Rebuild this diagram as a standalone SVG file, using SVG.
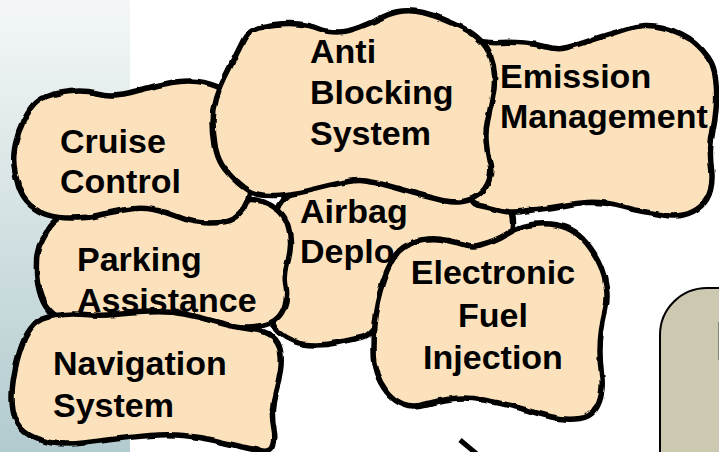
<svg xmlns="http://www.w3.org/2000/svg" width="719" height="452" viewBox="0 0 719 452">
<defs>
<linearGradient id="bg" x1="0" y1="0" x2="0" y2="1">
<stop offset="0" stop-color="#f4f7f7"/>
<stop offset="1" stop-color="#b2cbce"/>
</linearGradient>
<filter id="wob" x="-5%" y="-5%" width="110%" height="110%">
<feTurbulence type="fractalNoise" baseFrequency="0.06" numOctaves="2" seed="3" result="n"/>
<feDisplacementMap in="SourceGraphic" in2="n" scale="4" xChannelSelector="R" yChannelSelector="G"/>
</filter>
<style>
.blob{fill:#fce2bc;stroke:#000;stroke-width:5.5;stroke-linejoin:round;filter:url(#wob)}
.t{font-family:"Liberation Sans",Arial,sans-serif;font-weight:bold;font-size:34px;fill:#000}
.conn{stroke:#000;stroke-width:5;fill:none}
</style>
</defs>
<rect x="0" y="0" width="719" height="452" fill="#fff"/>
<rect x="0" y="0" width="130" height="452" fill="url(#bg)"/>

<g id="node-gray">
<path d="M660,460 V335 A47,47 0 0 1 707,288 H730 V460 Z" fill="#cdc8b0" stroke="#000" stroke-width="2"/>
<text class="t" x="715" y="360" style="font-size:55px">E</text>
</g>

<g id="node-airbag">
<path class="blob" d="M276,216 Q280,192 315,183.5 Q350,175 400,177.5 Q450,180 477.5,187.5 Q505,195 509.5,205 Q514,215 513.5,225 Q513,235 506.5,245 Q500,255 460,262.5 Q420,270 402.5,285 Q385,300 379,317.5 Q373,335 361.5,337.5 Q350,340 338.5,342.5 Q327,345 315,345 Q303,345 294,341.5 Q285,338 278.5,332.5 Q272,327 269,308.5 Q266,290 269,265 Q272,240 276,216 Z"/>
<text class="t" x="300" y="223">Airbag</text>
<text class="t" x="300" y="263">Deplo</text>
</g>

<g id="node-parking">
<path class="blob" d="M42,240 Q45,235 48.5,228.5 Q52,222 61,216 Q70,210 100,207.5 Q130,205 165,205 Q200,205 220,202.5 Q240,200 248,199.5 Q256,199 264,202 Q272,205 278.5,210.5 Q285,216 288,225.5 Q291,235 290.5,245 Q290,255 287,265 Q284,275 286,286.5 Q288,298 284,308 Q280,318 271,322.5 Q262,327 247.5,327 Q233,327 216.5,322.5 Q200,318 185,316 Q170,314 150,315 Q130,316 107.5,320 Q85,324 72.5,322 Q60,320 52.5,314 Q45,308 41,296.5 Q37,285 36.5,272.5 Q36,260 37.5,252.5 Q39,245 42,240 Z"/>
</g>

<g id="node-cruise">
<path class="blob" d="M33,106 Q38,100 46.5,96.5 Q55,93 70,91.5 Q85,90 96.5,93 Q108,96 119,94.5 Q130,93 144,89 Q158,85 171.5,82.5 Q185,80 197.5,81.5 Q210,83 222.5,89 Q235,95 241.5,117.5 Q248,140 249.5,162.5 Q251,185 249.5,193.5 Q248,202 244,208.5 Q240,215 233.5,219 Q227,223 210,223 Q193,223 180,217.5 Q167,212 153.5,209.5 Q140,207 123.5,210 Q107,213 97,215.5 Q87,218 72,218 Q57,218 47.5,215 Q38,212 30,205 Q22,198 18.5,186.5 Q15,175 14,165 Q13,155 15.5,143.5 Q18,132 23,122 Q28,112 33,106 Z"/>
<text class="t" x="60" y="153">Cruise</text>
<text class="t" x="60" y="193">Control</text>
</g>

<g id="node-emission">
<path class="blob" d="M465,80 Q470,40 480,41.5 Q490,43 501,42.5 Q512,42 524.5,43 Q537,44 547,47 Q557,50 567,47.5 Q577,45 587,41.5 Q597,38 607,35 Q617,32 626,29 Q635,26 644,25.5 Q653,25 663,27.5 Q673,30 681.5,34 Q690,38 696.5,44 Q703,50 708,57 Q713,64 714.5,72 Q716,80 716.5,90 Q717,100 716,110 Q715,120 713,130 Q711,140 710.5,149 Q710,158 711.5,169 Q713,180 710.5,190 Q708,200 700.5,206.5 Q693,213 683,215 Q673,217 663,215 Q653,213 643,211.5 Q633,210 625,207.5 Q617,205 607,203.5 Q597,202 587,202.5 Q577,203 567,205 Q557,207 545,208.5 Q533,210 521.5,211.5 Q510,213 498.5,210 Q487,207 477,205 Q467,203 463.5,161.5 Q460,120 465,80 Z"/>
<text class="t" x="500" y="88">Emission</text>
<text class="t" x="500" y="128">Management</text>
</g>

<g id="node-abs">
<path class="blob" d="M243.5,40 Q247,33 254.5,29.5 Q262,26 274.5,24.5 Q287,23 298.5,24 Q310,25 318.5,28.5 Q327,32 337,32 Q347,32 360,27 Q373,22 383,17 Q393,12 403,11 Q413,10 423,12.5 Q433,15 443,19 Q453,23 463,28 Q473,33 480,40 Q487,47 490.5,56 Q494,65 494.5,75 Q495,85 492.5,97.5 Q490,110 487.5,121.5 Q485,133 486.5,145 Q488,157 490,164.5 Q492,172 489,180.5 Q486,189 479,194.5 Q472,200 462.5,201.5 Q453,203 443,200.5 Q433,198 423,195.5 Q413,193 403,190 Q393,187 383,184.5 Q373,182 365,181 Q357,180 348.5,181.5 Q340,183 331.5,185 Q323,187 315,189 Q307,191 297,193 Q287,195 276,195.5 Q265,196 256.5,194 Q248,192 237.5,182.5 Q227,173 222,165 Q217,157 215,145 Q213,133 213,121.5 Q213,110 216.5,98.5 Q220,87 225,77 Q230,67 235,57 Q240,47 243.5,40 Z"/>
<text class="t" x="310" y="63">Anti</text>
<text class="t" x="310" y="104">Blocking</text>
<text class="t" x="310" y="145">System</text>
</g>

<g id="node-navigation">
<path class="blob" d="M33.5,325 Q40,318 55,315.5 Q70,313 85,314.5 Q100,316 115,314.5 Q130,313 149,312 Q168,311 184,314 Q200,317 216.5,322 Q233,327 249.5,329 Q266,331 272.5,336.5 Q279,342 280.5,351 Q282,360 280.5,370 Q279,380 276,390 Q273,400 272.5,410 Q272,420 274,430 Q276,440 273,446 Q270,452 262.5,451 Q255,450 242.5,447 Q230,444 215,440.5 Q200,437 183.5,435.5 Q167,434 150,435.5 Q133,437 116.5,439 Q100,441 83.5,443 Q67,445 53.5,443 Q40,441 30,435.5 Q20,430 16,420 Q12,410 12,397.5 Q12,385 15,370 Q18,355 22.5,343.5 Q27,332 33.5,325 Z"/>
<text class="t" x="53" y="375">Navigation</text>
<text class="t" x="53" y="417">System</text>
</g>

<g id="node-parking-label">
<text class="t" x="77" y="271">Parking</text>
<text class="t" x="77" y="312">Assistance</text>
</g>

<g id="node-efi">
<path class="blob" d="M399,251 Q403,247 410,243.5 Q417,240 427,239 Q437,238 448.5,240.5 Q460,243 466.5,245 Q473,247 480,245 Q487,243 493.5,240.5 Q500,238 506.5,234 Q513,230 520,227.5 Q527,225 537,224 Q547,223 557,225 Q567,227 575,232.5 Q583,238 590,247.5 Q597,257 601,267 Q605,277 606.5,288.5 Q608,300 605.5,310 Q603,320 601.5,330 Q600,340 600,351.5 Q600,363 601.5,373 Q603,383 601.5,393 Q600,403 595,410 Q590,417 580,418.5 Q570,420 560,418.5 Q550,417 538.5,413.5 Q527,410 513.5,406.5 Q500,403 483.5,400 Q467,397 453.5,398.5 Q440,400 426.5,404 Q413,408 403,404 Q393,400 386.5,391.5 Q380,383 376.5,373 Q373,363 373,350 Q373,337 374,325 Q375,313 377.5,301.5 Q380,290 383.5,280 Q387,270 391,262.5 Q395,255 399,251 Z"/>
<text class="t" x="493" y="284" text-anchor="middle">Electronic</text>
<text class="t" x="493" y="327" text-anchor="middle">Fuel</text>
<text class="t" x="493" y="369" text-anchor="middle">Injection</text>
</g>

<g id="connectors">
<line class="conn" x1="460" y1="440" x2="478" y2="455"/>
</g>
</svg>
